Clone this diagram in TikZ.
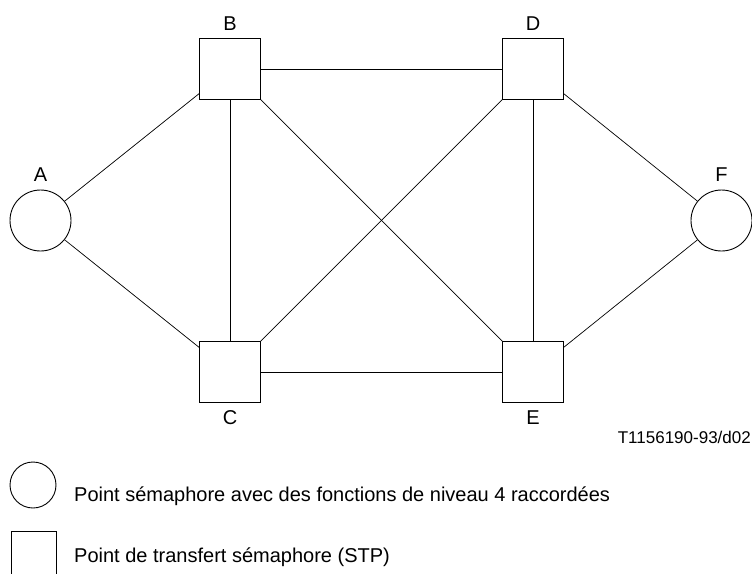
\documentclass[tikz,border=0pt]{standalone}
\usepackage{fontspec}
\setmainfont{Liberation Sans}
\usetikzlibrary{positioning}
\tikzstyle{stp} = [rectangle, draw, line width=1pt, minimum size=60.5pt, inner sep=0pt]
\tikzstyle{sp} = [circle, draw, line width=0.9pt, minimum size=61pt, inner sep=0pt]
\tikzstyle{link} = [line width=0.7pt]
\tikzstyle{tag} = [inner sep=0pt, font=\fontsize{20}{23}\selectfont]
\tikzstyle{legtext} = [inner sep=0pt, anchor=base west, font=\fontsize{20}{23}\selectfont]

\begin{document}
\begin{tikzpicture}[x=1pt, y=-1pt]
\useasboundingbox (0,0) rectangle (752,573);
% signalling points and transfer points
\node[sp] (A) at (40.5,220.5) {};
\node[stp] (B) at (230,69) {};
\node[stp] (C) at (230,372) {};
\node[stp] (D) at (533,69) {};
\node[stp] (E) at (533,372) {};
\node[sp] (F) at (721.5,220.5) {};

% names
\node[tag, above=8pt of A] (labA) {A};
\node[tag, above=8pt of B] (labB) {B};
\node[tag, below=8pt of C] (labC) {C};
\node[tag, above=8pt of D] (labD) {D};
\node[tag, below=8pt of E] (labE) {E};
\node[tag, above=8pt of F] (labF) {F};

% links
\draw[link] (A) -- (B);
\draw[link] (A) -- (C);
\draw[link] (B) -- (C);
\draw[link] (B) -- (D);
\draw[link] (B) -- (E);
\draw[link] (D) -- (C);
\draw[link] (D) -- (E);
\draw[link] (C) -- (E);
\draw[link] (D) -- (F);
\draw[link] (E) -- (F);

\node[anchor=east, inner sep=0pt, font=\fontsize{17}{20}\selectfont] (ref) at (751,437) {T1156190-93/d02};

% legend
\begin{scope}
\clip (0,0) rectangle (752,573);
\node[sp, minimum size=46pt] (legsp) at (33,485) {};
\node[stp, minimum size=45pt] (legstp) at (33.5,553.5) {};
\end{scope}
\node[legtext] (legsptext) at (74,501) {Point sémaphore avec des fonctions de niveau 4 raccordées};
\node[legtext] (legstptext) at (74,562) {Point de transfert sémaphore (STP)};
\end{tikzpicture}
\end{document}
